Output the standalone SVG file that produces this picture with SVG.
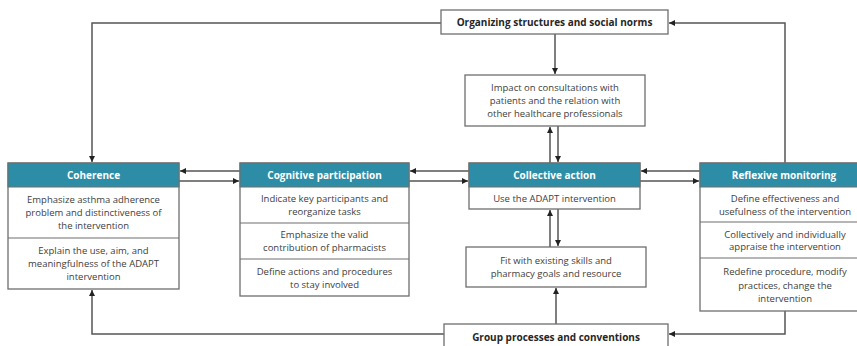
<svg xmlns="http://www.w3.org/2000/svg" width="857" height="346" viewBox="0 0 857 346">
<style>
.box{fill:#fff;stroke:#6e6e6e;stroke-width:1.3}
.hdr{fill:#2e8da6;stroke:#6e6e6e;stroke-width:1}
.sep{stroke:#6e6e6e;stroke-width:1.2}
.t{font-family:"Open Sans","Liberation Sans",sans-serif;font-size:9.5px;fill:#404040;text-anchor:middle;dominant-baseline:central}
.h{font-family:"Open Sans","Liberation Sans",sans-serif;font-size:10px;font-weight:bold;fill:#fff;text-anchor:middle;dominant-baseline:central}
.b{font-family:"Open Sans","Liberation Sans",sans-serif;font-size:10px;font-weight:bold;fill:#262626;text-anchor:middle;dominant-baseline:central}
.c{fill:none;stroke:#555;stroke-width:1.5;marker-end:url(#a)}
.n{fill:none;stroke:#555;stroke-width:1.5}
</style>
<defs>
<marker id="a" markerUnits="userSpaceOnUse" markerWidth="7" markerHeight="7" refX="6" refY="3.5" orient="auto">
<path d="M0,0.5 L6,3.5 L0,6.5 Z" fill="#222"/>
</marker>
</defs>
<g id="connectors">
<path class="c" d="M441,23 H92 V162"/>
<path class="c" d="M785,163 V23 H669"/>
<path class="c" d="M555,34 V74"/>
<path class="c" d="M550,163 V127"/>
<path class="c" d="M558,126 V162"/>
<path class="c" d="M550,247 V210"/>
<path class="c" d="M558,209 V246"/>
<path class="c" d="M556,324 V288"/>
<path class="c" d="M785,311 V334 H669"/>
<path class="c" d="M444,334 H92 V290"/>
<path class="c" d="M240,171 H180"/>
<path class="c" d="M179,181 H239"/>
<path class="c" d="M469,171 H410"/>
<path class="c" d="M409,181 H468"/>
<path class="c" d="M700,171 H641"/>
<path class="c" d="M640,181 H699"/>
</g>
<g id="organizing">
<rect class="box" x="441" y="10" width="227" height="24"/>
<text class="b" x="554.5" y="22">Organizing structures and social norms</text>
</g>
<g id="impact">
<rect class="box" x="465" y="75" width="180" height="51"/>
<text class="t" x="555" y="87.5">Impact on consultations with</text>
<text class="t" x="555" y="100.5">patients and the relation with</text>
<text class="t" x="555" y="113.5">other healthcare professionals</text>
</g>
<g id="coherence">
<rect class="box" x="8" y="163" width="171" height="126"/>
<rect class="hdr" x="8" y="163" width="171" height="24"/>
<text class="h" x="93.5" y="175">Coherence</text>
<text class="t" x="93.5" y="199.5">Emphasize asthma adherence</text>
<text class="t" x="93.5" y="212.5">problem and distinctiveness of</text>
<text class="t" x="93.5" y="225.5">the intervention</text>
<line class="sep" x1="8" y1="238" x2="179" y2="238"/>
<text class="t" x="93.5" y="250.5">Explain the use, aim, and</text>
<text class="t" x="93.5" y="263.5">meaningfulness of the ADAPT</text>
<text class="t" x="93.5" y="276.5">intervention</text>
</g>
<g id="cognitive">
<rect class="box" x="240" y="163" width="169" height="133"/>
<rect class="hdr" x="240" y="163" width="169" height="24"/>
<text class="h" x="324.5" y="175">Cognitive participation</text>
<text class="t" x="324.5" y="198.5">Indicate key participants and</text>
<text class="t" x="324.5" y="211.5">reorganize tasks</text>
<line class="sep" x1="240" y1="223" x2="409" y2="223"/>
<text class="t" x="324.5" y="234.5">Emphasize the valid</text>
<text class="t" x="324.5" y="247.5">contribution of pharmacists</text>
<line class="sep" x1="240" y1="259" x2="409" y2="259"/>
<text class="t" x="324.5" y="271">Define actions and procedures</text>
<text class="t" x="324.5" y="284">to stay involved</text>
</g>
<g id="collective">
<rect class="box" x="469" y="163" width="171" height="46"/>
<rect class="hdr" x="469" y="163" width="171" height="24"/>
<text class="h" x="554.5" y="175">Collective action</text>
<text class="t" x="554.5" y="198">Use the ADAPT intervention</text>
</g>
<g id="fit">
<rect class="box" x="466" y="247" width="180" height="40"/>
<text class="t" x="556" y="260">Fit with existing skills and</text>
<text class="t" x="556" y="273">pharmacy goals and resource</text>
</g>
<g id="reflexive">
<rect class="box" x="700" y="163" width="168" height="148"/>
<rect class="hdr" x="700" y="163" width="168" height="24"/>
<text class="h" x="784" y="175">Reflexive monitoring</text>
<text class="t" x="785" y="198.5">Define effectiveness and</text>
<text class="t" x="785" y="211">usefulness of the intervention</text>
<line class="sep" x1="700" y1="222" x2="868" y2="222"/>
<text class="t" x="785" y="234">Collectively and individually</text>
<text class="t" x="785" y="246.5">appraise the intervention</text>
<line class="sep" x1="700" y1="258" x2="868" y2="258"/>
<text class="t" x="785" y="271.5">Redefine procedure, modify</text>
<text class="t" x="785" y="285">practices, change the</text>
<text class="t" x="785" y="298.5">intervention</text>
</g>
<g id="group">
<rect class="box" x="444" y="324" width="224" height="30"/>
<text class="b" x="556" y="337">Group processes and conventions</text>
</g>
</svg>
